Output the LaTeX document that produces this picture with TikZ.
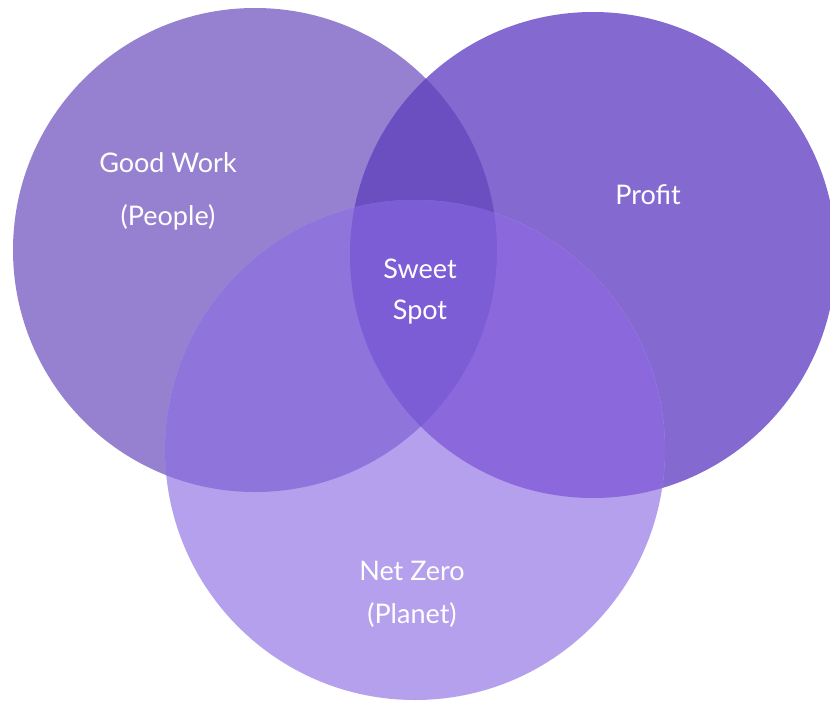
\documentclass[tikz,border=0pt]{standalone}
\usepackage{fontspec}
\setmainfont{Lato}
\usepackage{tikz}
\usetikzlibrary{positioning}
\definecolor{peoplecol}{HTML}{9681D0}
\definecolor{profitcol}{HTML}{8369D0}
\definecolor{planetcol}{HTML}{B4A0EC}
\definecolor{peopleprofit}{HTML}{6B4FC0}
\definecolor{peopleplanet}{HTML}{8F74DB}
\definecolor{profitplanet}{HTML}{8B69DD}
\definecolor{sweetcol}{HTML}{7C5DD6}

\begin{document}
\begin{tikzpicture}[x=1pt,y=-1pt,
    lbl/.style={text=white, font=\fontsize{27}{31}\selectfont, align=center}]
    \useasboundingbox (0,0) rectangle (830,701);
    \coordinate (people) at (255,250);
    \coordinate (profit) at (593,255);
    \coordinate (planet) at (415,450);
    \def\rpeople{242pt}
    \def\rprofit{243pt}
    \def\rplanet{250pt}
    % the three circles
    \fill[peoplecol] (people) circle[radius=\rpeople];
    \fill[profitcol] (profit) circle[radius=\rprofit];
    \fill[planetcol] (planet) circle[radius=\rplanet];
    % overlaps
    \begin{scope}
      \clip (people) circle[radius=\rpeople];
      \fill[peopleprofit] (profit) circle[radius=\rprofit];
      \fill[peopleplanet] (planet) circle[radius=\rplanet];
    \end{scope}
    \begin{scope}
      \clip (profit) circle[radius=\rprofit];
      \fill[profitplanet] (planet) circle[radius=\rplanet];
      \clip (people) circle[radius=\rpeople];
      \fill[sweetcol] (planet) circle[radius=\rplanet];
    \end{scope}
    % labels
    \node[lbl] (work) at (168,191) {Good Work\\[22pt](People)};
    \node[lbl] (money) at (648,195) {Profit};
    \node[lbl] (sweet) at (420,292) {Sweet\\[10pt]Spot};
    \node[lbl] (zero) at (412,594) {Net Zero\\[12pt](Planet)};
\end{tikzpicture}
\end{document}
